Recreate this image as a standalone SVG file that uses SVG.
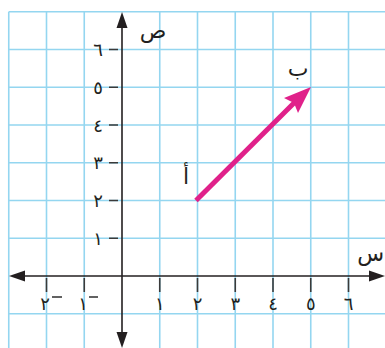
<svg xmlns="http://www.w3.org/2000/svg" width="385" height="348" viewBox="0 0 385 348">
<style>
.grid{stroke:#94d6f0;stroke-width:1.6;fill:none}
.axis{stroke:#231f20;stroke-width:1.6;fill:none}
.tick{stroke:#3a3a3a;stroke-width:1.6}
.num{font-family:"DejaVu Sans",sans-serif;font-size:18px;fill:#231f20;text-anchor:middle}
.lbl{font-family:"DejaVu Sans",sans-serif;font-size:22px;fill:#231f20;text-anchor:middle}
</style>
<rect width="385" height="348" fill="#ffffff"/>
<g id="grid" class="grid">
<path d="M8.75,11.75V348 M46.5,11.75V348 M84.25,11.75V348 M159.75,11.75V348 M197.5,11.75V348 M235.25,11.75V348 M273,11.75V348 M310.75,11.75V348 M348.5,11.75V348"/>
<path d="M8.75,11.75H385 M8.75,49.5H385 M8.75,87.25H385 M8.75,125H385 M8.75,162.75H385 M8.75,200.5H385 M8.75,238.25H385 M8.75,313.75H385"/>
</g>
<g id="axes">
<line class="axis" x1="122" y1="20" x2="122" y2="340"/>
<line class="axis" x1="17" y1="276" x2="377" y2="276"/>
<polygon points="122,12 116.5,28 127.5,28" fill="#231f20"/>
<polygon points="122,348 116.5,332 127.5,332" fill="#231f20"/>
<polygon points="9,276 25,270.5 25,281.5" fill="#231f20"/>
<polygon points="385,276 369,270.5 369,281.5" fill="#231f20"/>
</g>
<g id="ticks" class="tick">
<path d="M109,49.5H118 M109,87.25H118 M109,125H118 M109,162.75H118 M109,200.5H118 M109,238.25H118"/>
<path d="M46.5,278V292 M84.25,278V292 M159.75,278V292 M197.5,278V292 M235.25,278V292 M273,278V292 M310.75,278V292 M348.5,278V292"/>
</g>
<g id="ylabels">
<text class="num" x="98" y="56">٦</text>
<text class="num" x="98" y="93.5">٥</text>
<text class="num" x="98" y="131.5">٤</text>
<text class="num" x="98" y="169">٣</text>
<text class="num" x="98" y="207">٢</text>
<text class="num" x="98" y="244.5">١</text>
</g>
<g id="xlabels">
<text class="num" x="45" y="310">٢</text>
<line class="tick" x1="52" y1="297" x2="62" y2="297"/>
<text class="num" x="83" y="310">١</text>
<line class="tick" x1="89" y1="297" x2="98" y2="297"/>
<text class="num" x="159.75" y="310">١</text>
<text class="num" x="197.5" y="310">٢</text>
<text class="num" x="235.25" y="310">٣</text>
<text class="num" x="273" y="310">٤</text>
<text class="num" x="310.75" y="310">٥</text>
<text class="num" x="348.5" y="310">٦</text>
</g>
<g id="axis-labels">
<text class="lbl" x="153" y="38">ص</text>
<text class="lbl" x="384" y="261" style="text-anchor:end">س</text>
</g>
<g id="vector">
<line x1="196" y1="200.5" x2="296" y2="101" stroke="#e0218a" stroke-width="5"/>
<path d="M311,87 L284,98 L294,103 L298,113 Z" fill="#e0218a"/>
</g>
<g id="point-labels">
<text class="lbl" x="186" y="184">أ</text>
<text class="lbl" x="298" y="76">ب</text>
</g>
</svg>
